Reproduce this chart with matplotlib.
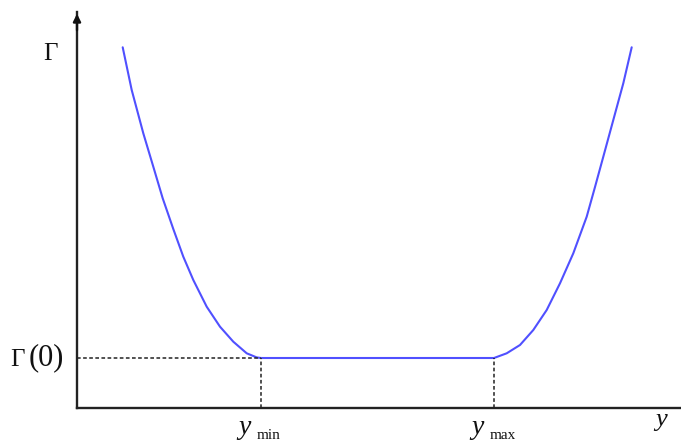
import matplotlib.pyplot as plt

plt.rcParams['mathtext.fontset'] = 'stix'
plt.rcParams['font.family'] = 'Liberation Serif'

# curve (arbitrary units, axes origin at 0,0)
left_x = [45.7, 54.7, 66.3, 76.3, 85.7, 96.3, 106.3, 116.3, 129.7, 143, 156.3, 169.7, 179.7, 184]
left_y = [360.7, 318, 274.7, 241.3, 209.7, 179, 151.3, 128, 101.3, 81.3, 66.3, 54.7, 50.6, 50]
flat_x = [184, 417]
flat_y = [50, 50]
right_x = [417, 429.7, 443, 456.3, 469.7, 483, 496.3, 509.7, 518, 526.3, 536.3, 546.3, 554.7]
right_y = [50, 54.7, 63, 78, 98, 124.7, 154.7, 191.3, 221, 251.3, 288, 324.7, 360.7]

y_min, y_max, gamma0 = 184, 417, 50

fig = plt.figure(figsize=(6.81, 4.43), dpi=100)
ax = fig.add_axes([77 / 681, 35 / 443, 604 / 681, 396 / 443])
ax.set_xlim(0, 604)
ax.set_ylim(0, 396)

curve_x = left_x + flat_x[1:] + right_x[1:]
curve_y = left_y + flat_y[1:] + right_y[1:]
ax.plot(curve_x, curve_y, color='#5050ff', lw=1.5, solid_capstyle='round',
        solid_joinstyle='round')

dash = dict(color='#222222', lw=1.1, ls=(0, (2.4, 1.6)))
ax.plot([0, y_min], [gamma0, gamma0], **dash)
ax.plot([y_min, y_min], [0, gamma0], **dash)
ax.plot([y_max, y_max], [0, gamma0], **dash)

for s in ['top', 'right']:
    ax.spines[s].set_visible(False)
for s in ['left', 'bottom']:
    ax.spines[s].set_linewidth(1.7)
    ax.spines[s].set_color('#222222')
ax.set_xticks([])
ax.set_yticks([])
ax.annotate('', xy=(0, 397), xytext=(0, 375),
            arrowprops=dict(arrowstyle='-|>', color='#111111', lw=1.7,
                            mutation_scale=11),
            annotation_clip=False)

kw = dict(ha='left', va='baseline', clip_on=False, color='#111111')
# Gamma on the y axis
ax.text(-34, 348, 'Γ', fontsize=18, **kw)
# Gamma(0), brackets drawn a little larger
ax.text(-67, 42, 'Γ', fontsize=18, **kw)
ax.text(-48, 43, '(0)', fontsize=22, **kw)
# x labels
ax.text(y_min - 23, -26, 'y', fontsize=20, style='italic', **kw)
ax.text(y_min - 4, -31, 'min', fontsize=11, **kw)
ax.text(y_max - 22.3, -26, 'y', fontsize=20, style='italic', **kw)
ax.text(y_max - 4, -31, 'max', fontsize=11, **kw)
ax.text(578, -18, 'y', fontsize=19, style='italic', **kw)

fig.savefig('out.png', dpi=100)
